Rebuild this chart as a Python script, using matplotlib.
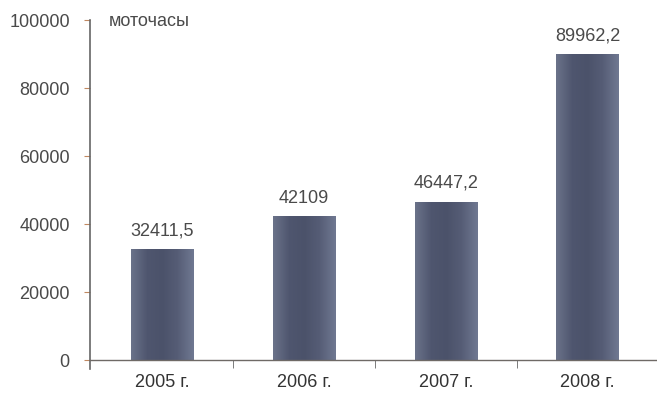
import matplotlib.pyplot as plt
import numpy as np

plt.rcParams['font.family'] = ['Liberation Sans', 'DejaVu Sans']

years = ['2005 г.', '2006 г.', '2007 г.', '2008 г.']
hours = [32411.5, 42109, 46447.2, 89962.2]
value_labels = ['32411,5', '42109', '46447,2', '89962,2']
y_ticks = [0, 20000, 40000, 60000, 80000, 100000]

txt = '#4a4a4a'
fig = plt.figure(figsize=(6.57, 3.94), dpi=100)
ax = fig.add_axes([0.137, 0.086, 0.863, 0.863])

x = np.arange(len(years))
width = 0.44
# bars with a soft horizontal shading
cmap = plt.matplotlib.colors.LinearSegmentedColormap.from_list(
    'bar', ['#6a7289', '#4f566f', '#4b526a', '#565d76', '#6f7891'])
grad = np.linspace(0, 1, 64).reshape(1, -1)
for xi, h in zip(x, hours):
    ax.imshow(grad, cmap=cmap, aspect='auto', extent=(xi - width / 2, xi + width / 2, 0, h),
              zorder=2)
for xi, h, lab in zip(x, hours, value_labels):
    ax.text(xi, h + 3000, lab, ha='center', va='bottom', fontsize=13, color=txt)

ax.set_xlim(-0.51, 3.49)
ax.set_ylim(0, 100000)

for s in ['top', 'right']:
    ax.spines[s].set_visible(False)
ax.spines['left'].set_color('#666666')
ax.spines['bottom'].set_color('#6f6a66')
ax.spines['left'].set_linewidth(1.2)
ax.spines['bottom'].set_linewidth(1.0)
ax.spines['left'].set_bounds(-2500, 100000)

ax.set_yticks(y_ticks)
ax.set_yticklabels([str(v) for v in y_ticks])
ax.tick_params(axis='y', direction='out', length=4, color='#c08860', labelsize=13,
               labelcolor=txt, pad=10.5)
ax.set_xticks(x)
ax.set_xticklabels(years)
ax.tick_params(axis='x', length=0, labelsize=13, labelcolor='#333333', pad=10)
ax.set_xticks([0.5, 1.5, 2.5], minor=True)
ax.tick_params(axis='x', which='minor', direction='out', length=6, color='#666666')

ax.text(0.033, 0.995, 'моточасы', transform=ax.transAxes, ha='left', va='center',
        fontsize=13, color=txt)

fig.savefig('out.png', dpi=100)
